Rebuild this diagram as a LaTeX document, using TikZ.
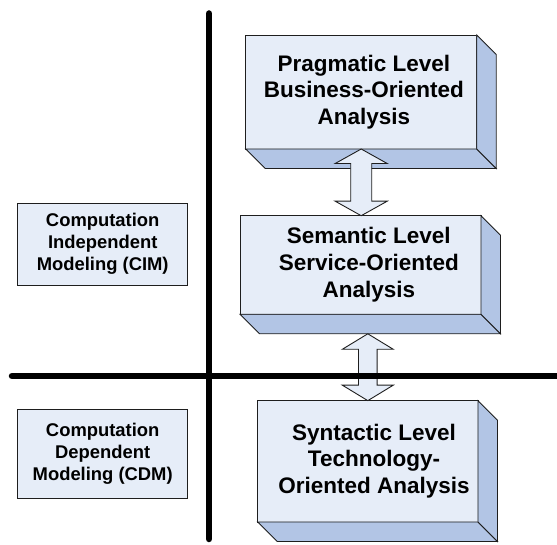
\documentclass[tikz,border=0pt]{standalone}
\usepackage{fontspec}
\setmainfont{Liberation Sans}
\usetikzlibrary{calc}
\definecolor{frontc}{HTML}{E6EDF8}
\definecolor{sidec}{HTML}{B2C5E5}
\definecolor{edgec}{HTML}{1E1E1E}
\tikzset{
 front/.style={draw=edgec, fill=frontc, line width=0.9pt, rectangle, outer sep=0pt, inner sep=0pt},
 side/.style={draw=edgec, fill=sidec, line width=0.9pt, line join=miter},
 bigtext/.style={font=\fontsize{22.5}{26.7}\selectfont\bfseries, align=center, inner sep=0pt},
 smalltext/.style={font=\fontsize{18.4}{22}\selectfont\bfseries, align=center, inner sep=0pt},
 axisline/.style={line width=6.5pt, line cap=round, black},
 blockarrow/.style={draw=edgec, fill=frontc, line width=0.9pt, line join=miter},
}
\newcommand\bxd{19.5}
\newcommand\boxfaces[1]{%
 \draw[side] (#1.south west) -- ++(\bxd,\bxd) -- ($(#1.south east)+(\bxd,\bxd)$) -- (#1.south east) -- cycle;
 \draw[side] (#1.north east) -- ++(\bxd,\bxd) -- ($(#1.south east)+(\bxd,\bxd)$) -- (#1.south east) -- cycle;}
\newcommand\dblarrow[5]{%
 \draw[blockarrow] let \p1=(#1), \p2=(#2) in
 (\x1,\y1) -- (\x1+#3,\y1-#5) -- (\x1+#4,\y1-#5) -- (\x1+#4,\y2+#5) -- (\x1+#3,\y2+#5)
 -- (\x1,\y2) -- (\x1-#3,\y2+#5) -- (\x1-#4,\y2+#5) -- (\x1-#4,\y1-#5) -- (\x1-#3,\y1-#5) -- cycle;}
\begin{document}
\begin{tikzpicture}[x=1pt,y=-1pt]
\useasboundingbox (0,0) rectangle (557,545);
\coordinate (vtop) at (209,13.5);
\coordinate (vbot) at (209,539);
\coordinate (hleft) at (12,376);
\coordinate (hright) at (565,376);
\draw[axisline] (vtop) -- (vbot);

% left boxes
\node[front, minimum width=170pt, minimum height=81.7pt] (cim) at (102.7,244.2) {};
\node[smalltext] (cimtxt) at (cim.center) {Computation\\Independent\\Modeling (CIM)};
\node[front, minimum width=170pt, minimum height=89pt] (cdm) at (102.7,453.8) {};
\node[smalltext] (cdmtxt) at (cdm.center) {Computation\\Dependent\\Modeling (CDM)};

% 3D boxes
\node[front, minimum width=231pt, minimum height=114pt] (prag) at (361.2,92) {};
\boxfaces{prag}
\node[bigtext] (pragtxt) at (363.8,92) {Pragmatic Level\\Business-Oriented\\Analysis};

\node[front, minimum width=241pt, minimum height=98.6pt] (sem) at (360.5,265) {};
\boxfaces{sem}
\node[bigtext] (semtxt) at (368.8,264.5) {Semantic Level\\Service-Oriented\\Analysis};

\node[front, minimum width=220.3pt, minimum height=121.3pt] (synt) at (367.8,461.3) {};
\boxfaces{synt}
\node[bigtext] (synttxt) at (374,461) {Syntactic Level\\Technology-\\Oriented Analysis};

% double block arrows
\dblarrow{prag.south}{sem.north}{26pt}{10.5pt}{14.5pt}
\coordinate (a2top) at ($(synt.north |- sem.south)+(0,\bxd)$);
\dblarrow{a2top}{synt.north}{25.5pt}{9.3pt}{15.5pt}

\draw[axisline] (hleft) -- (hright);
\end{tikzpicture}
\end{document}
